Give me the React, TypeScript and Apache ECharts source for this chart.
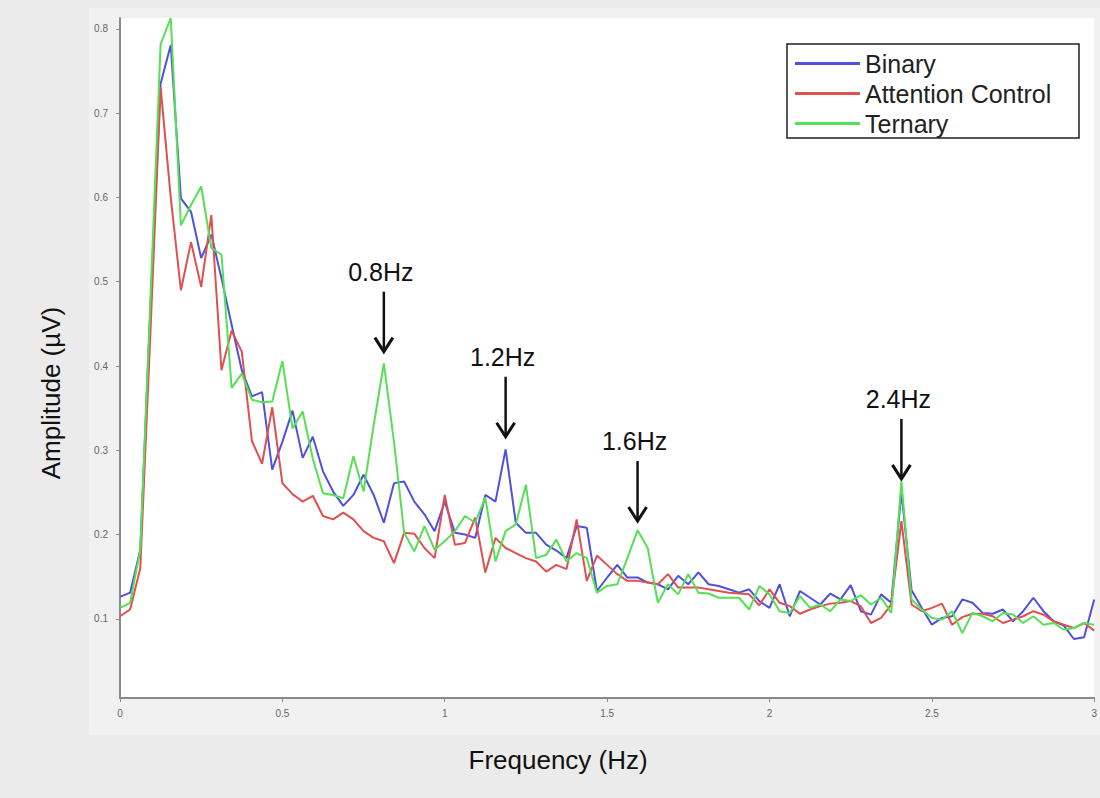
import React, { useEffect, useRef } from "react";
import * as echarts from "echarts";

// Frequency sampling of the spectrum (Hz): 97 bins from 0 to 3 Hz, step 1/32 Hz
const BIN_COUNT = 97;
const BIN_STEP = 1 / 32;
const FREQS: number[] = Array.from({ length: BIN_COUNT }, (_, i) => i * BIN_STEP);

const SERIES_NAMES = ["Binary", "Attention Control", "Ternary"];

const BINARY: number[] = [
  0.126, 0.131, 0.182, 0.47, 0.735, 0.781, 0.599, 0.583, 0.528, 0.556,
  0.504, 0.449, 0.395, 0.364, 0.369, 0.277, 0.31, 0.347, 0.291, 0.316,
  0.275, 0.251, 0.234, 0.247, 0.271, 0.247, 0.214, 0.261, 0.263, 0.239,
  0.224, 0.204, 0.239, 0.202, 0.2, 0.196, 0.247, 0.239, 0.301, 0.214,
  0.202, 0.202, 0.188, 0.181, 0.172, 0.21, 0.208, 0.133, 0.149, 0.164,
  0.149, 0.149, 0.143, 0.141, 0.135, 0.151, 0.141, 0.155, 0.141, 0.139,
  0.135, 0.131, 0.135, 0.121, 0.113, 0.141, 0.103, 0.133, 0.125, 0.117,
  0.13, 0.123, 0.14, 0.109, 0.105, 0.129, 0.119, 0.251, 0.134, 0.113,
  0.093, 0.101, 0.103, 0.123, 0.119, 0.107, 0.106, 0.111, 0.097, 0.109,
  0.125, 0.109, 0.097, 0.092, 0.076, 0.078, 0.123,
];

const ATTENTION: number[] = [
  0.103, 0.111, 0.16, 0.44, 0.731, 0.6, 0.49, 0.547, 0.494, 0.579,
  0.395, 0.442, 0.417, 0.311, 0.284, 0.351, 0.261, 0.248, 0.239, 0.246,
  0.222, 0.218, 0.226, 0.218, 0.204, 0.196, 0.192, 0.166, 0.202, 0.201,
  0.184, 0.172, 0.247, 0.188, 0.19, 0.22, 0.155, 0.196, 0.184, 0.178,
  0.172, 0.168, 0.156, 0.164, 0.159, 0.218, 0.145, 0.175, 0.164, 0.153,
  0.145, 0.145, 0.143, 0.141, 0.153, 0.137, 0.137, 0.137, 0.135, 0.133,
  0.131, 0.13, 0.129, 0.116, 0.135, 0.119, 0.115, 0.106, 0.111, 0.115,
  0.118, 0.119, 0.121, 0.115, 0.095, 0.101, 0.117, 0.216, 0.117, 0.109,
  0.113, 0.118, 0.093, 0.102, 0.106, 0.106, 0.103, 0.095, 0.099, 0.103,
  0.109, 0.105, 0.097, 0.093, 0.089, 0.095, 0.086,
];

const TERNARY: number[] = [
  0.113, 0.119, 0.182, 0.48, 0.782, 0.813, 0.567, 0.591, 0.613, 0.54,
  0.532, 0.374, 0.391, 0.36, 0.357, 0.358, 0.406, 0.326, 0.346, 0.29,
  0.249, 0.247, 0.243, 0.293, 0.251, 0.33, 0.403, 0.31, 0.202, 0.18,
  0.21, 0.182, 0.192, 0.204, 0.222, 0.214, 0.244, 0.168, 0.204, 0.212,
  0.259, 0.172, 0.176, 0.194, 0.168, 0.178, 0.172, 0.131, 0.139, 0.141,
  0.172, 0.205, 0.184, 0.119, 0.141, 0.129, 0.153, 0.131, 0.13, 0.125,
  0.125, 0.125, 0.111, 0.139, 0.129, 0.109, 0.107, 0.127, 0.113, 0.117,
  0.109, 0.123, 0.121, 0.128, 0.117, 0.125, 0.107, 0.263, 0.123, 0.111,
  0.101, 0.099, 0.109, 0.083, 0.107, 0.103, 0.097, 0.107, 0.105, 0.095,
  0.103, 0.093, 0.095, 0.087, 0.089, 0.095, 0.093,
];

const Y_TICKS: number[] = [0.1, 0.2, 0.3, 0.4, 0.5, 0.6, 0.7, 0.8];

// Annotated peaks: label, frequency of the arrow tip, amplitude of the arrow tip
const PEAK_LABELS = ["0.8Hz", "1.2Hz", "1.6Hz", "2.4Hz"];
const PEAK_FREQS = [0.8125, 1.1875, 1.59375, 2.40625];
const PEAK_TIPS = [0.417, 0.316, 0.216, 0.266];

const COLORS = ["#5050dc", "#e05050", "#55e055"];
const FONT = "'Liberation Sans', Arial, sans-serif";

export default function App() {
  const ref = useRef<HTMLDivElement>(null);

  useEffect(() => {
    if (!ref.current) return;
    const chart = echarts.init(ref.current, null, { renderer: "svg" });
    const valueSets = [BINARY, ATTENTION, TERNARY];

    const baseGraphics: any[] = [
      {
        id: "panel",
        type: "rect",
        z: -10,
        silent: true,
        shape: { x: 89, y: 8, width: 1011, height: 727 },
        style: { fill: "#f1f1f1" },
      },
      {
        id: "legendBox",
        type: "rect",
        z: 1,
        silent: true,
        shape: { x: 787, y: 44, width: 292, height: 94 },
        style: { fill: "#ffffff", stroke: "#222222", lineWidth: 1.5 },
      },
      {
        id: "yTitle",
        type: "text",
        x: 51,
        y: 393,
        rotation: Math.PI / 2,
        style: {
          text: "Amplitude (\u00b5V)",
          align: "center",
          verticalAlign: "middle",
          font: "26px " + FONT,
          fill: "#111111",
        },
      },
    ];

    const option: any = {
      animation: false,
      backgroundColor: "#ebebeb",
      grid: {
        left: 120,
        right: 3,
        top: 18,
        bottom: 100,
        show: true,
        backgroundColor: "#ffffff",
        borderWidth: 0,
      },
      legend: {
        data: SERIES_NAMES,
        orient: "vertical",
        left: 795,
        top: 51,
        padding: 0,
        itemWidth: 65,
        itemHeight: 3,
        itemGap: 5,
        icon: "rect",
        z: 10,
        textStyle: {
          fontSize: 25,
          fontFamily: FONT,
          color: "#222222",
        },
      },
      xAxis: {
        type: "value",
        min: 0,
        max: 3,
        interval: 0.5,
        name: "Frequency (Hz)",
        nameLocation: "middle",
        nameGap: 49,
        nameTextStyle: {
          fontSize: 26,
          color: "#111111",
          fontFamily: FONT,
          padding: [0, 98, 0, 0],
        },
        axisLine: { show: true, lineStyle: { color: "#8a8a8a", width: 2 } },
        axisTick: { show: true, length: 4, lineStyle: { color: "#8a8a8a" } },
        axisLabel: {
          color: "#666666",
          fontSize: 10,
          margin: 10,
          fontFamily: FONT,
        },
        splitLine: { show: false },
      },
      yAxis: {
        type: "value",
        min: 0.006,
        max: 0.813,
        axisLine: { show: true, lineStyle: { color: "#8a8a8a", width: 2 } },
        axisTick: {
          show: true,
          length: 4,
          customValues: Y_TICKS,
          lineStyle: { color: "#8a8a8a" },
        },
        axisLabel: {
          customValues: Y_TICKS,
          formatter: (v: number) => v.toFixed(1),
          color: "#666666",
          fontSize: 10,
          margin: 12,
          fontFamily: FONT,
        },
        splitLine: { show: false },
      },
      graphic: baseGraphics,
      series: SERIES_NAMES.map((name, s) => ({
        name,
        type: "line",
        showSymbol: false,
        symbol: "none",
        color: COLORS[s],
        lineStyle: { width: 2, color: COLORS[s] },
        data: FREQS.map((f, i) => [f, valueSets[s][i]]),
        z: 3 + s,
      })),
    };

    chart.setOption(option);

    const annotations: any[] = [];
    PEAK_LABELS.forEach((label, k) => {
      const p = chart.convertToPixel({ gridIndex: 0 }, [PEAK_FREQS[k], PEAK_TIPS[k]]);
      if (!p) return;
      const x = p[0];
      const tip = p[1];
      annotations.push(
        {
          id: "shaft" + k,
          type: "line",
          z: 20,
          shape: { x1: x, y1: tip - 60, x2: x, y2: tip - 2 },
          style: { stroke: "#111111", lineWidth: 2.5 },
        },
        {
          id: "head" + k,
          type: "polyline",
          z: 20,
          shape: { points: [[x - 9, tip - 14], [x, tip], [x + 9, tip - 14]] },
          style: { stroke: "#111111", lineWidth: 3, fill: null, lineJoin: "miter" },
        },
        {
          id: "label" + k,
          type: "text",
          z: 20,
          x: x - 3,
          y: tip - 80,
          style: {
            text: label,
            align: "center",
            verticalAlign: "middle",
            font: "25px " + FONT,
            fill: "#111111",
          },
        }
      );
    });
    chart.setOption({ graphic: [...baseGraphics, ...annotations] });

    return () => chart.dispose();
  }, []);

  return (
    <div
      ref={ref}
      style={{ position: "absolute", left: 0, top: 0, width: 1100, height: 798 }}
    />
  );
}
